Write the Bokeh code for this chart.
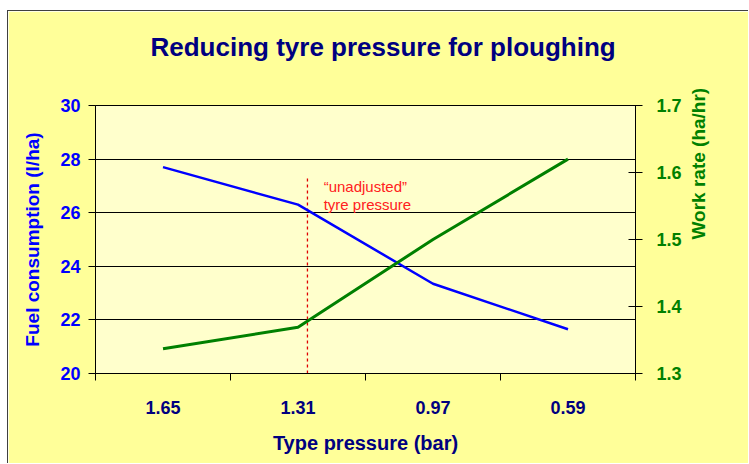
import math
from bokeh.plotting import figure
from bokeh.models import (Range1d, LinearAxis, FixedTicker, Label, ColumnDataSource)
from bokeh.embed import file_html
from bokeh.resources import INLINE

title_text = "Reducing tyre pressure for ploughing"
pressures = ["1.65", "1.31", "0.97", "0.59"]
fuel = [27.7, 26.3, 23.35, 21.65]
work_rate = [1.337, 1.369, 1.50, 1.62]
fuel_ticks = [20, 22, 24, 26, 28, 30]
rate_ticks = [1.3, 1.4, 1.5, 1.6, 1.7]

xs = [i + 0.5 for i in range(len(pressures))]
src = ColumnDataSource(dict(x=xs, fuel=fuel, rate=work_rate))

FONT = "Liberation Sans"
NAVY = "#000080"
BLUE = "#0000FF"
GREEN = "#008000"

p = figure(width=741, height=453, output_backend="svg", toolbar_location=None,
           x_range=Range1d(0, len(pressures)), y_range=Range1d(20, 30),
           min_border_left=87, min_border_right=114, min_border_top=94, min_border_bottom=91,
           background_fill_color="#FFFFCC", border_fill_color="#FFFF99")
p.margin = (10, 0, 0, 7)
p.styles = {"border-top": "1px solid #404040", "border-left": "1px solid #404040"}
p.outline_line_color = "black"
p.extra_y_ranges = {"wr": Range1d(1.3, 1.7)}

# trailing empty line leaves the gap between the title and the plot frame
p.title.text = title_text + "\n"
p.title.align = "left"
p.title.offset = 55
p.title.vertical_align = "top"
p.title.standoff = 24
p.title.text_color = NAVY
p.title.text_font = FONT
p.title.text_font_size = "26px"
p.title.text_font_style = "bold"

# grids
p.xgrid.visible = False
p.ygrid.ticker = FixedTicker(ticks=fuel_ticks)
p.ygrid.grid_line_color = "black"
p.ygrid.grid_line_width = 1

# left axis
ya = p.yaxis[0]
ya.ticker = FixedTicker(ticks=fuel_ticks)
ya.axis_label = "Fuel consumption (l/ha)"
ya.axis_label_text_color = BLUE
ya.axis_label_text_font = FONT
ya.axis_label_text_font_size = "19px"
ya.axis_label_text_font_style = "bold"
ya.major_label_text_color = BLUE
ya.major_label_text_font = FONT
ya.major_label_text_font_size = "18px"
ya.major_label_text_font_style = "bold"
ya.major_tick_in = 0
ya.major_tick_out = 7
ya.minor_tick_line_color = None
ya.major_label_standoff = 8
ya.axis_label_standoff = 14
ya.axis_line_color = "black"

# right axis
ra = LinearAxis(y_range_name="wr", ticker=FixedTicker(ticks=rate_ticks))
ra.axis_label = "Work rate (ha/hr)"
ra.axis_label_orientation = math.pi / 2
ra.axis_label_text_color = GREEN
ra.axis_label_text_font = FONT
ra.axis_label_text_font_size = "19px"
ra.axis_label_text_font_style = "bold"
ra.major_label_text_color = GREEN
ra.major_label_text_font = FONT
ra.major_label_text_font_size = "18px"
ra.major_label_text_font_style = "bold"
ra.major_tick_in = 7
ra.major_tick_out = 7
ra.minor_tick_line_color = None
ra.major_label_standoff = 14
ra.axis_label_standoff = 14
p.add_layout(ra, "right")

# bottom axis
xa = p.xaxis[0]
xa.ticker = FixedTicker(ticks=xs, minor_ticks=list(range(len(pressures) + 1)))
xa.major_label_overrides = {x: lab for x, lab in zip(xs, pressures)}
xa.major_tick_in = 0
xa.major_tick_out = 0
xa.minor_tick_in = 0
xa.minor_tick_out = 7
xa.minor_tick_line_color = "black"
xa.major_label_standoff = 20
xa.major_label_text_color = NAVY
xa.major_label_text_font = FONT
xa.major_label_text_font_size = "18px"
xa.major_label_text_font_style = "bold"
xa.axis_label = "Type pressure (bar)"
xa.axis_label_text_color = NAVY
xa.axis_label_text_font = FONT
xa.axis_label_text_font_size = "20px"
xa.axis_label_text_font_style = "bold"
xa.axis_label_standoff = 15

# unadjusted marker
p.segment(x0=[1.57], y0=[20], x1=[1.57], y1=[27.3], line_color="#E00000",
          line_dash="3 3", line_width=1.3)
p.add_layout(Label(x=1.69, y=26.98, text="\u201cunadjusted\u201d", text_color="#FF2020",
                   text_font=FONT, text_font_size="15px", text_baseline="middle"))
p.add_layout(Label(x=1.69, y=26.31, text="tyre pressure", text_color="#FF2020",
                   text_font=FONT, text_font_size="15px", text_baseline="middle"))

p.line("x", "fuel", source=src, line_color=BLUE, line_width=2.5)
p.line("x", "rate", source=src, line_color=GREEN, line_width=3, y_range_name="wr")

open("out.html", "w").write(file_html(p, INLINE))
